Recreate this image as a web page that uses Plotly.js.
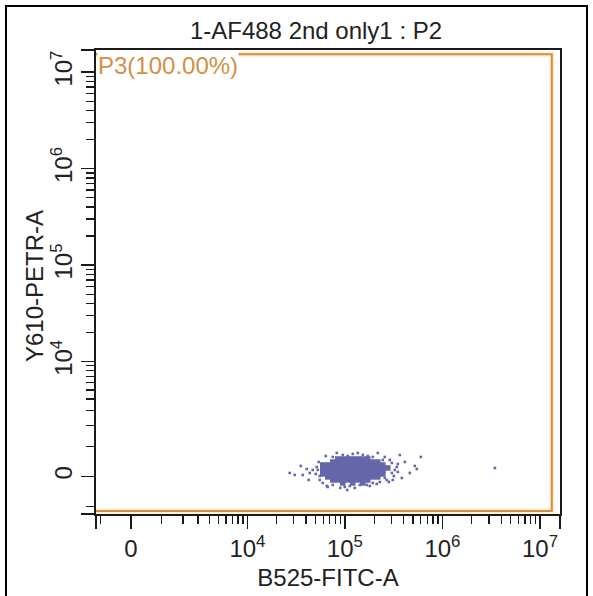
<!DOCTYPE html>
<html>
<head>
<meta charset="utf-8">
<script src="https://cdn.plot.ly/plotly-3.0.1.min.js"></script>
<style>
  html, body { margin: 0; padding: 0; background: #ffffff; }
  #chart { width: 593px; height: 596px; }
</style>
</head>
<body>
<div id="chart"></div>
<script>
// ---------- data (raw fluorescence values) ----------
// dense core of the P3 population
const coreX = [
  84640, 95260, 107200, 120600, 135700, 152700, 171900,
  75220, 84640, 95260, 107200, 120600, 135700, 152700, 171900, 193400, 217700,
  59390, 66830, 75220, 84640, 95260, 107200, 120600, 135700, 152700, 171900, 193400, 217700, 245000,
  59390, 66830, 75220, 84640, 95260, 107200, 120600, 135700, 152700, 171900, 193400, 217700, 245000, 275700,
  59390, 66830, 75220, 84640, 95260, 107200, 120600, 135700, 152700, 171900, 193400, 217700, 245000,
  59390, 66830, 75220, 84640, 95260, 107200, 120600, 135700, 152700, 171900, 193400, 217700, 245000,
  66830, 75220, 84640, 95260, 107200, 120600, 135700, 152700, 171900, 193400, 217700,
  75220, 84640, 95260, 107200, 120600, 135700, 152700, 171900,
  95260, 120600, 152700
];
const coreY = [
  554, 554, 554, 554, 554, 554, 554,
  455, 455, 455, 455, 455, 455, 455, 455, 455, 455,
  358, 358, 358, 358, 358, 358, 358, 358, 358, 358, 358, 358, 358,
  263, 263, 263, 263, 263, 263, 263, 263, 263, 263, 263, 263, 263, 263,
  170, 170, 170, 170, 170, 170, 170, 170, 170, 170, 170, 170, 170,
  77, 77, 77, 77, 77, 77, 77, 77, 77, 77, 77, 77, 77,
  -15, -15, -15, -15, -15, -15, -15, -15, -15, -15, -15,
  -108, -108, -108, -108, -108, -108, -108, -108,
  -201, -201, -201
];
// scattered events around the core
const fringeX = [
  27240, 30660, 35330, 37040, 40700, 43690, 42670, 46900, 51540, 54040, 55330, 59390,
  65270, 66830, 75220, 82660, 89800, 99840, 105900, 120600, 126400, 135700, 152700,
  167900, 180200, 193400, 217700, 228200, 256700, 269200, 289000, 303000, 310200,
  325200, 341000, 349000, 365900, 383700, 411800, 463400, 521500, 546800, 600900, 3450000,
  63760, 95260, 107200, 171900, 193400, 245000, 303000, 317600, 282200, 52770,
  55330, 50340, 75220, 112300, 142300, 212600, 256700, 349000
];
const fringeY = [
  108, 46, 327, 46, 232, 108, -108, 201, 295, 455, -108, -201,
  -295, -327, 622, 762, -358, -327, -423, 727, -358, 762, 691,
  -263, -295, -201, 762, -170, 622, -108, 521, 108, -108,
  201, 295, 390, 691, -46, 455, 108, 327, 232, 622, 263,
  656, 691, 656, 656, 622, 521, 423, 15, -170, 201,
  15, 77, -263, -295, -263, -232, -46, 139
];
// gate P3 corners (raw values)
const gateX = [-1400, 13200000];
const gateY = [-1187, 15300000];
const gateLabel = 'P3(100.00%)';

// axis ticks (raw values)
const majorVals = [0, 1e4, 1e5, 1e6, 1e7];
const majorText = ['0', '10<sup>4</sup>', '10<sup>5</sup>', '10<sup>6</sup>', '10<sup>7</sup>'];
const minorVals = [-1000, 1000, 2000, 3000, 4000, 5000, 6000, 7000, 8000, 9000,
  2e4, 3e4, 4e4, 5e4, 6e4, 7e4, 8e4, 9e4,
  2e5, 3e5, 4e5, 5e5, 6e5, 7e5, 8e5, 9e5,
  2e6, 3e6, 4e6, 5e6, 6e6, 7e6, 8e6, 9e6];

const chartTitle = '1-AF488 2nd only1 : P2';
const xTitle = 'B525-FITC-A';
const yTitle = 'Y610-PETR-A';

// ---------- biexponential-like display transform ----------
const W = 1290;
function T(v) { return Math.asinh(v / W) / Math.LN10; }
const tv = a => a.map(T);

const xRange = [-0.359, 4.395];
const yRange = [-0.389, 4.42];

const FONT = '"Liberation Sans", Arial, Helvetica, sans-serif';
const DOT = '#6666aa';
const ORANGE = '#d58f45';
const FS = 24;

const traces = [
  {
    type: 'scatter', mode: 'markers',
    x: tv(coreX), y: tv(coreY),
    marker: { symbol: 'square', size: 5.5, color: DOT, line: { width: 0 } },
    hoverinfo: 'skip', showlegend: false
  },
  {
    type: 'scatter', mode: 'markers',
    x: tv(fringeX), y: tv(fringeY),
    marker: { symbol: 'square', size: 2.6, color: DOT, line: { width: 0 } },
    hoverinfo: 'skip', showlegend: false
  }
];

function axis(range, isY) {
  const ax = {
    range: range,
    type: 'linear',
    showgrid: false,
    zeroline: false,
    showline: true,
    mirror: true,
    linecolor: '#1a1a1a',
    linewidth: 1.6,
    ticks: 'outside',
    ticklen: 13,
    tickwidth: 1.4,
    tickcolor: '#1a1a1a',
    tickmode: 'array',
    tickvals: [range[0]].concat(tv(majorVals), [range[1]]),
    ticktext: [''].concat(majorText, ['']),
    tickangle: isY ? -90 : 0,
    tickfont: { family: FONT, size: FS, color: '#222' },
    minor: {
      tickmode: 'array',
      tickvals: tv(minorVals),
      ticks: 'outside',
      ticklen: 8,
      tickwidth: 1.3,
      tickcolor: '#1a1a1a',
      showgrid: false
    },
    fixedrange: true
  };
  if (!isY) {
    ax.title = { text: xTitle, font: { family: FONT, size: FS, color: '#222' }, standoff: 8 };
  }
  return ax;
}

const gx = tv(gateX), gy = tv(gateY);

const layout = {
  width: 593, height: 596,
  margin: { l: 96, r: 33, t: 50, b: 82, pad: 0 },
  paper_bgcolor: '#ffffff',
  plot_bgcolor: '#ffffff',
  showlegend: false,
  title: {
    text: chartTitle,
    font: { family: FONT, size: FS, color: '#222' },
    xref: 'container', yref: 'container',
    x: 316 / 593, xanchor: 'center',
    y: 1 - 31 / 596, yanchor: 'middle'
  },
  xaxis: axis(xRange, false),
  yaxis: axis(yRange, true),
  shapes: [
    { type: 'rect', xref: 'x', yref: 'y', x0: gx[0], x1: gx[1], y0: gy[0], y1: gy[1],
      line: { color: 'rgba(252,226,170,0.6)', width: 5 }, fillcolor: 'rgba(0,0,0,0)', layer: 'above' },
    { type: 'rect', xref: 'x', yref: 'y', x0: gx[0], x1: gx[1], y0: gy[0], y1: gy[1],
      line: { color: ORANGE, width: 2 }, fillcolor: 'rgba(0,0,0,0)', layer: 'above' },
    { type: 'rect', xref: 'paper', yref: 'paper',
      x0: (6 - 96) / 464, x1: (587 - 96) / 464, y0: (514 - 605) / 464, y1: (514 - 6) / 464,
      line: { color: '#000', width: 2 }, fillcolor: 'rgba(0,0,0,0)', layer: 'above' }
  ],
  annotations: [
    { text: gateLabel, xref: 'paper', yref: 'paper',
      x: (97 - 96) / 464, y: (514 - 66) / 464, xanchor: 'left', yanchor: 'middle',
      showarrow: false, bgcolor: '#ffffff', borderpad: 0,
      font: { family: FONT, size: FS, color: ORANGE } },
    { text: yTitle, xref: 'paper', yref: 'paper', textangle: -90,
      x: (34 - 96) / 464, y: (514 - 286) / 464, xanchor: 'center', yanchor: 'middle',
      showarrow: false,
      font: { family: FONT, size: FS, color: '#222' } }
  ]
};

Plotly.newPlot('chart', traces, layout, { staticPlot: true, displayModeBar: false });
</script>
</body>
</html>
